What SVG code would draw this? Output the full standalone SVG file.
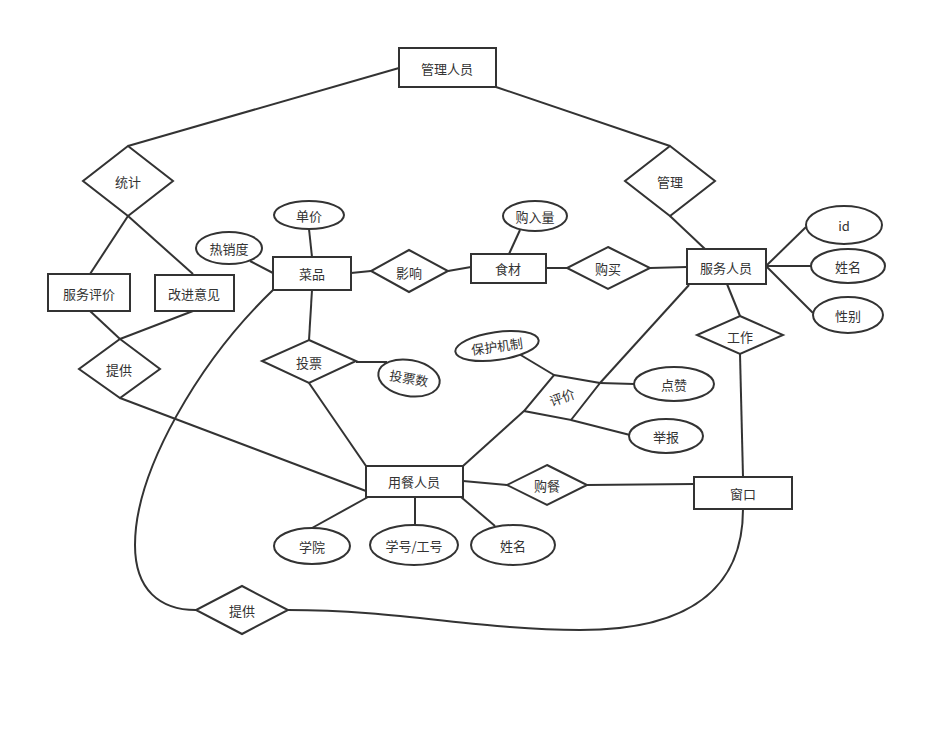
<svg xmlns="http://www.w3.org/2000/svg" width="946" height="756" viewBox="0 0 946 756">
<style>
.s{fill:#fff;stroke:#333;stroke-width:2}
.e{fill:none;stroke:#333;stroke-width:2}
text{font-family:"Noto Sans CJK SC","Liberation Sans",sans-serif;font-size:13px;fill:#333;text-anchor:middle;dominant-baseline:central}
</style>
<rect width="946" height="756" fill="#fff"/>
<g id="connectors">
<path class="e" d="M399,68 L128,146"/>
<path class="e" d="M496,87 L670,146"/>
<path class="e" d="M128,216 L90,274"/>
<path class="e" d="M128,216 L193,274"/>
<path class="e" d="M90,311 L120,339"/>
<path class="e" d="M193,311 L120,339"/>
<path class="e" d="M120,398 L366,491"/>
<path class="e" d="M670,216 L705,249"/>
<path class="e" d="M250,261 L273,273"/>
<path class="e" d="M309,229 L312,257"/>
<path class="e" d="M351,273 L371,271"/>
<path class="e" d="M448,271 L471,267"/>
<path class="e" d="M509,254 L520,230"/>
<path class="e" d="M546,268 L567,268"/>
<path class="e" d="M650,268 L687,267"/>
<path class="e" d="M766,266 L806,227"/>
<path class="e" d="M766,266 L811,266"/>
<path class="e" d="M766,266 L813,313"/>
<path class="e" d="M727,284 L740,316"/>
<path class="e" d="M740,354 L743,477"/>
<path class="e" d="M312,290 L309,340"/>
<path class="e" d="M356,362 L387,362"/>
<path class="e" d="M309,383 L366,466"/>
<path class="e" d="M689,285 L600,383"/>
<path class="e" d="M524,411 L463,466"/>
<path class="e" d="M519,354 L554,375"/>
<path class="e" d="M600,383 L634,384"/>
<path class="e" d="M571,420 L630,435"/>
<path class="e" d="M463,481 L507,485"/>
<path class="e" d="M587,485 L694,484"/>
<path class="e" d="M368,497 L312,528"/>
<path class="e" d="M415,497 L415,525"/>
<path class="e" d="M461,497 L495,526"/>
<path class="e" d="M273,290 C200,360 135,470 135,545 C135,590 160,610 196,610"/>
<path class="e" d="M288,610 C400,610 480,630 580,630 C700,630 743,580 743,509"/>
</g>
<g id="n_guanli_renyuan"><rect class="s" x="399" y="48" width="97" height="39"/><text x="447" y="68">管理人员</text></g>
<g id="n_tongji"><polygon class="s" points="128,146 173,181 128,216 83,181"/><text x="128" y="181">统计</text></g>
<g id="n_guanli"><polygon class="s" points="670,146 715,181 670,216 625,181"/><text x="670" y="181">管理</text></g>
<g id="n_fuwu_pingjia"><rect class="s" x="48" y="274" width="82" height="37"/><text x="89" y="293">服务评价</text></g>
<g id="n_gaijin"><rect class="s" x="155" y="275" width="79" height="36"/><text x="194" y="293">改进意见</text></g>
<g id="n_tigong1"><polygon class="s" points="120,339 160,369 120,398 79,369"/><text x="119" y="369">提供</text></g>
<g id="n_rexiaodu"><ellipse class="s" cx="229" cy="248" rx="33" ry="16"/><text x="229" y="248">热销度</text></g>
<g id="n_danjia"><ellipse class="s" cx="309" cy="215" rx="35" ry="14"/><text x="309" y="215">单价</text></g>
<g id="n_caipin"><rect class="s" x="273" y="257" width="78" height="33"/><text x="312" y="273">菜品</text></g>
<g id="n_yingxiang"><polygon class="s" points="409,250 448,271 409,292 371,271"/><text x="409" y="272">影响</text></g>
<g id="n_shicai"><rect class="s" x="471" y="254" width="75" height="29"/><text x="508" y="268">食材</text></g>
<g id="n_gouruliang"><ellipse class="s" cx="535" cy="216" rx="32" ry="15"/><text x="535" y="216">购入量</text></g>
<g id="n_goumai"><polygon class="s" points="608,247 650,268 608,289 567,268"/><text x="608" y="268">购买</text></g>
<g id="n_fuwu_renyuan"><rect class="s" x="687" y="249" width="79" height="35"/><text x="726" y="267">服务人员</text></g>
<g id="n_id"><ellipse class="s" cx="844" cy="225" rx="38" ry="19"/><text x="844" y="225">id</text></g>
<g id="n_xingming1"><ellipse class="s" cx="848" cy="266" rx="37" ry="17"/><text x="848" y="266">姓名</text></g>
<g id="n_xingbie"><ellipse class="s" cx="848" cy="315" rx="35" ry="18"/><text x="848" y="315">性别</text></g>
<g id="n_gongzuo"><polygon class="s" points="740,316 783,335 740,354 697,335"/><text x="740" y="336">工作</text></g>
<g id="n_toupiao"><polygon class="s" points="309,340 356,361 309,383 262,361"/><text x="309" y="362">投票</text></g>
<g id="n_toupiaoshu"><ellipse class="s" cx="409" cy="378" rx="31" ry="18" transform="rotate(10 409 378)"/><text x="409" y="378" transform="rotate(10 409 378)">投票数</text></g>
<g id="n_baohu"><ellipse class="s" cx="497" cy="346" rx="42" ry="14" transform="rotate(-8 497 346)"/><text x="497" y="346" transform="rotate(-8 497 346)">保护机制</text></g>
<g id="n_pingjia"><polygon class="s" points="554,375 600,383 571,420 524,411"/><text x="562" y="397" transform="rotate(-20 562 397)">评价</text></g>
<g id="n_dianzan"><ellipse class="s" cx="674" cy="384" rx="40" ry="17"/><text x="674" y="384">点赞</text></g>
<g id="n_jubao"><ellipse class="s" cx="666" cy="436" rx="37" ry="17"/><text x="666" y="436">举报</text></g>
<g id="n_yongcan"><rect class="s" x="366" y="466" width="97" height="31"/><text x="414" y="481">用餐人员</text></g>
<g id="n_goucan"><polygon class="s" points="547,465 587,485 547,505 507,485"/><text x="547" y="485">购餐</text></g>
<g id="n_chuangkou"><rect class="s" x="694" y="477" width="98" height="32"/><text x="743" y="493">窗口</text></g>
<g id="n_xueyuan"><ellipse class="s" cx="312" cy="546" rx="38" ry="18"/><text x="312" y="546">学院</text></g>
<g id="n_xuehao"><ellipse class="s" cx="414" cy="545" rx="44" ry="20"/><text x="414" y="545">学号/工号</text></g>
<g id="n_xingming2"><ellipse class="s" cx="513" cy="545" rx="42" ry="20"/><text x="513" y="545">姓名</text></g>
<g id="n_tigong2"><polygon class="s" points="242,586 288,610 242,634 196,610"/><text x="242" y="610">提供</text></g>
</svg>
